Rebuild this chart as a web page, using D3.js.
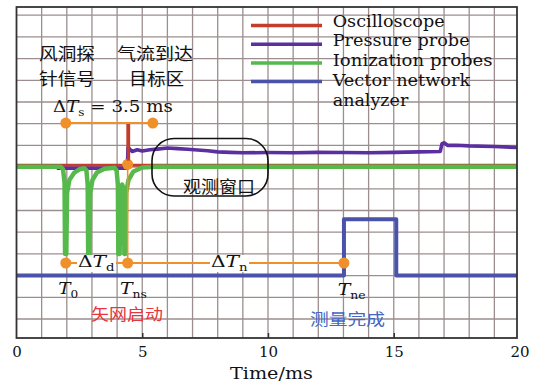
<!DOCTYPE html>
<html><head><meta charset="utf-8">
<script src="https://cdn.jsdelivr.net/npm/d3@7"></script>
<style>html,body{margin:0;padding:0;background:#fff;} svg{display:block}</style>
</head><body>
<svg id="c" width="544" height="385"></svg>
<script>
// ---------- data ----------
const xTicks = [0, 5, 10, 15, 20];
const xLabel = "Time/ms";
const legendNames = ["Oscilloscope", "Pressure probe", "Ionization probes", "Vector network|analyzer"];

// [time (ms), level (grid units)]
const oscilloscope = [[0,7.08],[4.43,7.08],[4.43,9.0],[4.46,9.0],[4.46,7.08],[20,7.08]];
const pressure = [[1.6,6.95],[4.4,6.95],[4.44,7.9],[4.6,7.72],[4.8,7.8],[5.0,7.74],[5.3,7.8],[5.6,7.83],
  [6.0,7.88],[6.4,7.85],[6.8,7.82],[7.2,7.79],[7.6,7.75],[8.0,7.7],[8.5,7.68],[9.0,7.66],[10,7.67],
  [11,7.66],[12,7.68],[13,7.67],[14,7.66],[15,7.68],[16,7.7],[16.85,7.72],[16.92,8.08],[17.0,8.12],
  [17.15,8.0],[17.5,8.01],[18,7.98],[19,7.95],[20,7.9]];
const ionization = [[0,7.02],[1.75,7.02],[1.85,6.9],[1.91,6.3],[1.93,3.0],[1.98,3.0],[2.01,5.8],[2.1,6.4],
  [2.3,6.75],[2.5,6.9],[2.7,6.95],[2.78,6.85],[2.83,6.2],[2.85,3.0],[2.9,3.0],[2.93,5.8],[3.02,6.4],
  [3.2,6.75],[3.5,6.92],[3.9,6.97],[3.98,6.85],[4.03,6.2],[4.05,3.0],[4.1,3.0],[4.13,5.6],[4.2,6.2],
  [4.26,6.0],[4.29,3.0],[4.33,3.0],[4.36,5.8],[4.45,6.4],[4.65,6.8],[5.0,6.98],[5.5,7.02],[20,7.02]];
const vna = [[0,2.0],[13.02,2.0],[13.02,4.6],[15.1,4.6],[15.1,2.0],[20,2.0]];

const tsTimes = [1.96, 5.42];      // ΔTs bracket
const tsLevel = 9.03;
const tnTimes = [1.96, 4.42, 13.02]; // T0, Tns, Tne
const tnLevel = 2.58;
const baseMarker = [4.42, 7.13];

// ---------- drawing ----------
const svg = d3.select("#c");
const x = d3.scaleLinear([0, 20], [16.5, 519.5]);
const y = d3.scaleLinear([0, 14], [319, 319 - 21.7 * 14]);
const L = 16.5, R = 517, T = 7, B = 338;

const colors = { osc: "#c43c2c", pre: "#5b2f9f", ion: "#55b94b", vna: "#4a52aa", org: "#f0902a" };
const serif = "'DejaVu Serif', 'Liberation Serif', serif";
const cjk = "'Noto Sans CJK SC', sans-serif";

svg.append("defs").append("clipPath").attr("id", "clip")
  .append("rect").attr("x", L).attr("y", T).attr("width", R - L).attr("height", B - T);

// grid
const grid = svg.append("g").attr("clip-path", "url(#clip)")
  .attr("stroke", "#9c8e8e").attr("stroke-width", 1.3);
grid.selectAll("line.v").data(d3.range(1, 20)).join("line")
  .attr("x1", d => x(d)).attr("x2", d => x(d)).attr("y1", T).attr("y2", B);
grid.selectAll("line.h").data(d3.range(0, 15)).join("line")
  .attr("x1", L).attr("x2", R).attr("y1", d => y(d)).attr("y2", d => y(d));

const line = d3.line().x(d => x(d[0])).y(d => y(d[1]));
const plot = svg.append("g").attr("clip-path", "url(#clip)").attr("fill", "none")
  .attr("stroke-linejoin", "round");

plot.append("path").datum(vna).attr("d", line).attr("stroke", colors.vna).attr("stroke-width", 4);
plot.append("path").datum(oscilloscope).attr("d", line).attr("stroke", colors.osc).attr("stroke-width", 3);
plot.append("path").datum(pressure).attr("d", line).attr("stroke", colors.pre).attr("stroke-width", 3.6);
plot.append("path").datum(ionization).attr("d", line).attr("stroke", colors.ion).attr("stroke-width", 4.5);

// orange annotations
const ann = svg.append("g");
ann.append("line").attr("x1", x(tsTimes[0])).attr("x2", x(tsTimes[1]))
  .attr("y1", y(tsLevel)).attr("y2", y(tsLevel)).attr("stroke", colors.org).attr("stroke-width", 2);
ann.append("line").attr("x1", x(tnTimes[0])).attr("x2", x(tnTimes[2]))
  .attr("y1", y(tnLevel)).attr("y2", y(tnLevel)).attr("stroke", colors.org).attr("stroke-width", 2);
ann.append("line").attr("x1", x(baseMarker[0])).attr("x2", x(baseMarker[0]))
  .attr("y1", y(baseMarker[1])).attr("y2", y(tnLevel)).attr("stroke", colors.org).attr("stroke-width", 1.6);
// red spike over orange
svg.append("line").attr("x1", x(4.445)).attr("x2", x(4.445)).attr("y1", y(tsLevel) + 1).attr("y2", y(7.3))
  .attr("stroke", colors.osc).attr("stroke-width", 3);

const marks = tsTimes.map(t => [t, tsLevel]).concat(tnTimes.map(t => [t, tnLevel])).concat([baseMarker]);
ann.selectAll("circle").data(marks).join("circle")
  .attr("cx", d => x(d[0])).attr("cy", d => y(d[1])).attr("r", 5.5).attr("fill", colors.org);

// text helper: fit text to a target width (horizontal scale)
function fit(x0, base, width, build, opts = {}) {
  const g = svg.append("g").attr("transform", `translate(${x0},${base})`);
  const t = g.append("text").attr("font-family", opts.family || serif)
    .attr("font-size", opts.size || 16).attr("fill", opts.fill || "#111");
  build(t);
  const w = t.node().getBBox().width;
  t.attr("transform", `scale(${width / w},1)`);
  return g;
}
function plain(s) { return t => t.text(s); }
function mathT(pre, sub, post) {
  return t => {
    if (pre) t.append("tspan").text(pre);
    t.append("tspan").attr("font-style", "italic").text("T");
    t.append("tspan").attr("font-size", 10.5).attr("dy", 4).text(sub);
    if (post) t.append("tspan").attr("dy", -4).text(post);
  };
}

// white boxes behind ΔTd / ΔTn
svg.append("rect").attr("x", 77).attr("y", 255).attr("width", 39).attr("height", 17).attr("fill", "#fff");
svg.append("rect").attr("x", 210).attr("y", 255).attr("width", 39).attr("height", 17).attr("fill", "#fff");

// box for 观测窗口
svg.append("rect").attr("x", 152).attr("y", 138.5).attr("width", 116).attr("height", 57.5).attr("rx", 22)
  .attr("fill", "none").attr("stroke", "#111").attr("stroke-width", 1.6);

// frame
svg.append("rect").attr("x", L).attr("y", T).attr("width", R - L).attr("height", B - T)
  .attr("fill", "none").attr("stroke", "#333").attr("stroke-width", 1.8);

// axis
const axis = d3.axisBottom(x).tickValues(xTicks).tickSizeInner(-5).tickSizeOuter(0).tickPadding(8);
const ag = svg.append("g").attr("transform", `translate(0,${B})`).call(axis);
ag.select(".domain").remove();
ag.selectAll(".tick line").attr("stroke", "#333").attr("stroke-width", 1.5);
ag.selectAll(".tick").filter(d => d === 0 || d === 20).select("line").remove();
ag.selectAll("text").attr("font-family", serif).attr("font-size", 15).attr("fill", "#111");
fit(230, 379.3, 83, plain(xLabel));

// legend
const legColors = [colors.osc, colors.pre, colors.ion, colors.vna];
const legWidths = [112, 137, 160, 139];
legendNames.forEach((n, i) => {
  svg.append("line").attr("x1", 251).attr("x2", 322).attr("y1", 25.5 + 18.7 * i).attr("y2", 25.5 + 18.7 * i)
    .attr("stroke", legColors[i]).attr("stroke-width", 3.5);
  const parts = n.split("|");
  fit(332.7, 26.5 + 19.75 * i, legWidths[i], plain(parts[0]));
  if (parts[1]) fit(332.7, 26.5 + 19.75 * (i + 1), 76, plain(parts[1]));
});

// Chinese annotations
fit(39, 60, 56, plain("风洞探"), { family: cjk, size: 16.5 });
fit(39, 85, 56, plain("针信号"), { family: cjk, size: 16.5 });
fit(117, 60, 76, plain("气流到达"), { family: cjk, size: 16.5 });
fit(129, 85, 55, plain("目标区"), { family: cjk, size: 16.5 });
fit(183, 192.5, 72, plain("观测窗口"), { family: cjk, size: 16.5 });
fit(91, 320, 72, plain("矢网启动"), { family: cjk, size: 16, fill: "#e8353d" });
fit(310, 324.5, 75, plain("测量完成"), { family: cjk, size: 16, fill: "#4466c4" });

// math labels
fit(53, 111.7, 120, mathT("Δ", "s", " = 3.5 ms"), { size: 16 });
fit(78, 266.5, 37, mathT("Δ", "d", ""), { size: 16 });
fit(211, 266.5, 37, mathT("Δ", "n", ""), { size: 16 });
fit(58.3, 294, 20, mathT("", "0", ""), { size: 16 });
fit(120, 294, 27, mathT("", "ns", ""), { size: 16 });
fit(337.7, 294.5, 28, mathT("", "ne", ""), { size: 16 });
</script>
</body></html>
